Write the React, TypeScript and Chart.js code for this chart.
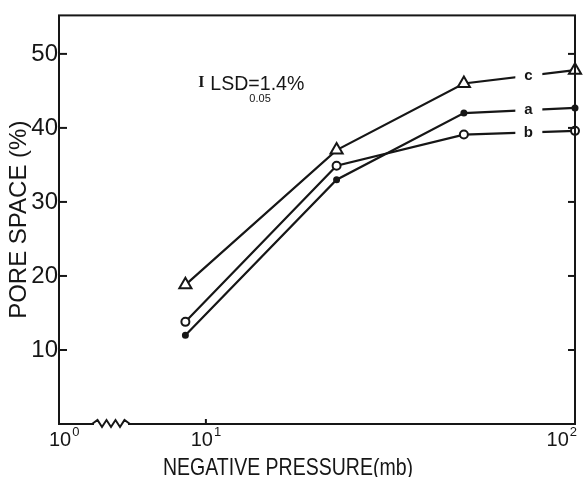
import { useEffect, useRef } from 'react';
import { Chart, registerables } from 'chart.js';

Chart.register(...registerables);

// ---- data ----
const pressures = [8.8, 22.6, 50, 100]; // negative pressure (mb)
const seriesA = [12.0, 33.0, 42.0, 42.7];
const seriesB = [13.8, 34.9, 39.1, 39.6];
const seriesC = [18.8, 37.0, 46.0, 47.8];
const seriesNames = ['c', 'a', 'b'];
const yTickValues = [10, 20, 30, 40, 50];
const xTickValues = [4, 10, 100];
const xTickBase = ['10', '10', '10'];
const xTickExp = ['0', '1', '2'];
const xTitle = 'NEGATIVE PRESSURE(mb)';
const yTitle = 'PORE SPACE (%)';
const lsdText = 'LSD=1.4%';
const lsdSub = '0.05';
const lsdAnchor = { pressure: 9.6, space: 45.1 };

const X_MIN = 4.0;
const X_MAX = 100;
const Y_MIN = 0;
const Y_MAX = 55.2;

const INK = '#161616';
const SANS = '"Liberation Sans", Arial, sans-serif';

const decorPlugin = {
  id: 'decor',
  afterDatasetsDraw(chart: any) {
    const { ctx, chartArea, scales } = chart;
    const { left, right, top, bottom } = chartArea;
    const xs = scales.x;
    const ys = scales.y;
    const seg = (x1: number, y1: number, x2: number, y2: number) => {
      ctx.beginPath();
      ctx.moveTo(x1, y1);
      ctx.lineTo(x2, y2);
      ctx.stroke();
    };
    ctx.save();
    // series labels breaking the last segment
    chart.data.datasets.forEach((ds: any, i: number) => {
      const meta = chart.getDatasetMeta(i);
      const p3 = meta.data[2];
      const p4 = meta.data[3];
      const f = 0.58;
      const x = p3.x + (p4.x - p3.x) * f;
      const y = p3.y + (p4.y - p3.y) * f;
      ctx.fillStyle = '#ffffff';
      ctx.fillRect(x - 13, y - 7, 27, 14);
      ctx.fillStyle = INK;
      ctx.font = `bold 15px ${SANS}`;
      ctx.textAlign = 'center';
      ctx.textBaseline = 'middle';
      ctx.fillText(ds.label, x, y);
    });

    // frame
    ctx.strokeStyle = INK;
    ctx.lineWidth = 2;
    ctx.lineCap = 'butt';
    ctx.strokeRect(left, top, right - left, bottom - top);

    // y ticks inside
    yTickValues.forEach((v) => {
      const y = ys.getPixelForValue(v);
      seg(left, y, left + 8, y);
      seg(right, y, right - 7, y);
    });
    // x tick at 10
    const x10 = xs.getPixelForValue(10);
    seg(x10, bottom, x10, bottom - 5);

    // axis break zigzag
    const z0 = left + 34;
    const z1 = left + 70;
    ctx.strokeStyle = '#ffffff';
    ctx.lineWidth = 5;
    seg(z0 + 1, bottom, z1 - 1, bottom);
    ctx.strokeStyle = INK;
    ctx.lineWidth = 2;
    ctx.lineJoin = 'miter';
    const s = (z1 - z0) / 8;
    ctx.beginPath();
    ctx.moveTo(z0 - 1, bottom);
    for (let k = 1; k < 8; k++) {
      ctx.lineTo(z0 + k * s, k % 2 === 1 ? bottom - 4 : bottom + 3);
    }
    ctx.lineTo(z1 + 1, bottom);
    ctx.stroke();

    // x tick labels
    ctx.fillStyle = INK;
    ctx.textBaseline = 'alphabetic';
    xTickValues.forEach((v, i) => {
      const px = xs.getPixelForValue(v);
      ctx.font = `20px ${SANS}`;
      const wBase = ctx.measureText(xTickBase[i]).width;
      ctx.font = `13px ${SANS}`;
      const wExp = ctx.measureText(xTickExp[i]).width;
      const total = wBase + 1 + wExp;
      let start = px - total / 2;
      if (i === 0) start = px - 10;
      if (i === xTickValues.length - 1) start = px + 2 - total;
      ctx.font = `20px ${SANS}`;
      ctx.textAlign = 'left';
      ctx.fillText(xTickBase[i], start, bottom + 22);
      ctx.font = `13px ${SANS}`;
      ctx.fillText(xTickExp[i], start + wBase + 1, bottom + 12);
    });

    // x title
    ctx.font = `24px ${SANS}`;
    ctx.textAlign = 'left';
    ctx.fillText(xTitle, left + 104, bottom + 51, 250);

    // LSD annotation
    const ax = xs.getPixelForValue(lsdAnchor.pressure);
    const ay = ys.getPixelForValue(lsdAnchor.space);
    ctx.font = `bold 16px "Liberation Serif", serif`;
    ctx.fillText('I', ax - 1, ay - 3);
    ctx.font = `20px ${SANS}`;
    ctx.fillText(lsdText, ax + 11, ay, 94);
    ctx.font = `11px ${SANS}`;
    ctx.fillText(lsdSub, ax + 50, ay + 12);

    ctx.restore();
  },
};

export default function App() {
  const canvasRef = useRef<HTMLCanvasElement | null>(null);

  useEffect(() => {
    document.body.style.margin = '0';
    const canvas = canvasRef.current;
    if (!canvas) return;

    const mk = (vals: number[]) => pressures.map((p, i) => ({ x: p, y: vals[i] }));
    const base = {
      borderColor: INK,
      borderWidth: 2.2,
      pointBorderColor: INK,
      pointBorderWidth: 2,
      tension: 0,
      clip: false as const,
    };

    const chart = new Chart(canvas, {
      type: 'line',
      data: {
        datasets: [
          {
            ...base,
            label: seriesNames[0],
            data: mk(seriesC),
            pointStyle: 'triangle',
            pointRadius: 7,
            pointBackgroundColor: '#ffffff',
          },
          {
            ...base,
            label: seriesNames[1],
            data: mk(seriesA),
            pointStyle: 'circle',
            pointRadius: 2.5,
            pointBackgroundColor: INK,
          },
          {
            ...base,
            label: seriesNames[2],
            data: mk(seriesB),
            pointStyle: 'circle',
            pointRadius: 4,
            pointBackgroundColor: '#ffffff',
          },
        ],
      },
      options: {
        animation: false,
        responsive: false,
        maintainAspectRatio: false,
        layout: { padding: { top: 10, right: 12, left: 0, bottom: 0 } },
        plugins: {
          legend: { display: false },
          tooltip: { enabled: false },
        },
        scales: {
          x: {
            type: 'logarithmic',
            min: X_MIN,
            max: X_MAX,
            grid: { display: false, drawTicks: false },
            border: { display: false },
            ticks: { display: false },
            afterBuildTicks: (scale: any) => {
              scale.ticks = xTickValues.map((v) => ({ value: v }));
            },
            afterFit: (scale: any) => {
              scale.height = 53;
            },
          },
          y: {
            type: 'linear',
            min: Y_MIN,
            max: Y_MAX,
            grid: { display: false, drawTicks: false },
            border: { display: false },
            afterBuildTicks: (scale: any) => {
              scale.ticks = yTickValues.map((v) => ({ value: v }));
            },
            ticks: {
              color: INK,
              padding: 1,
              font: { family: SANS, size: 24 },
              callback: (v: any) => String(v),
            },
            title: {
              display: true,
              text: yTitle,
              color: INK,
              font: { family: SANS, size: 24, lineHeight: 1 },
              padding: { top: 7, bottom: 0 },
            },
            afterFit: (scale: any) => {
              scale.width = 59;
            },
          },
        },
      },
      plugins: [decorPlugin],
    });

    return () => chart.destroy();
  }, []);

  return (
    <div style={{ width: 587, height: 477, background: '#ffffff' }}>
      <canvas ref={canvasRef} width={587} height={477} style={{ display: 'block' }} />
    </div>
  );
}
